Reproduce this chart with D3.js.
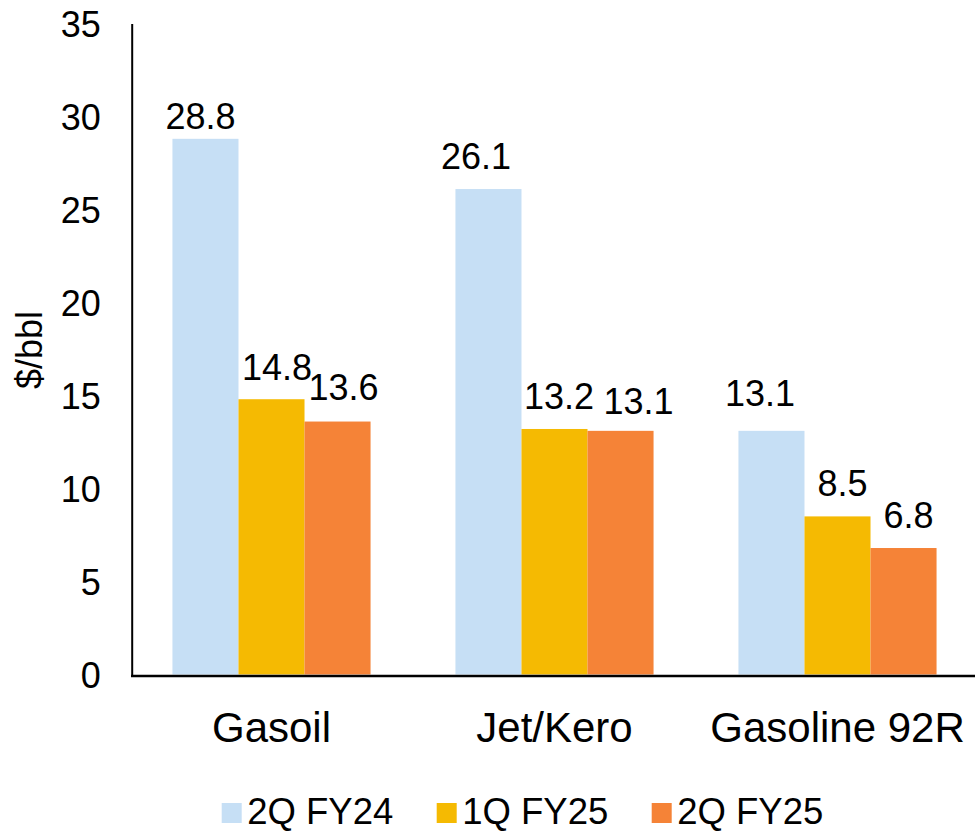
<!DOCTYPE html>
<html>
<head>
<meta charset="utf-8">
<script src="https://cdn.jsdelivr.net/npm/d3@7/dist/d3.min.js"></script>
<style>
  html, body { margin: 0; padding: 0; background: #fff; }
  svg { display: block; }
  text { font-family: "Liberation Sans", Arial, sans-serif; fill: #000; }
</style>
</head>
<body>
<div id="chart"></div>
<script>
// ---- data ----
const categories = ["Gasoil", "Jet/Kero", "Gasoline 92R"];
const seriesNames = ["2Q FY24", "1Q FY25", "2Q FY25"];
const series2QFY24 = [28.8, 26.1, 13.1];
const series1QFY25 = [14.8, 13.2, 8.5];
const series2QFY25 = [13.6, 13.1, 6.8];
const yTicks = [0, 5, 10, 15, 20, 25, 30, 35];
const yTitle = "$/bbl";

const seriesValues = [series2QFY24, series1QFY25, series2QFY25];

// ---- style / layout (not data) ----
const colors = ["#C6DFF5", "#F5BA02", "#F58337"];
// manual data-label nudges (px) as placed in the original, [category][series]
const labelDx = [[-5, 5.5, 6], [-12.5, 4.5, 18], [-11.5, 5, 5]];
const labelGap = [[10, 19, 22], [20, 20, 17], [25, 20.5, 20]];

const W = 975, H = 832;
const mLeft = 131, mRight = 980, mTop = 23.5, mBottom = 674.5;

const svg = d3.select("#chart").append("svg")
  .attr("width", W).attr("height", H);

const y = d3.scaleLinear().domain([0, 35]).range([mBottom, mTop]);
const x0 = d3.scaleBand().domain(categories).range([mLeft - 1, mRight - 1])
  .paddingInner(0.3).paddingOuter(0.15);
const x1 = d3.scaleBand().domain(seriesNames).range([0, x0.bandwidth()]);

const cellData = (c, ci) => seriesNames.map((s, si) => ({ s, si, ci, v: seriesValues[si][ci] }));

// bars
const groups = svg.append("g").selectAll("g")
  .data(categories)
  .join("g")
  .attr("transform", d => `translate(${x0(d)},0)`);

groups.selectAll("rect")
  .data(cellData)
  .join("rect")
  .attr("x", d => x1(d.s))
  .attr("y", d => y(d.v))
  .attr("width", x1.bandwidth())
  .attr("height", d => y(0) - y(d.v))
  .attr("fill", d => colors[d.si]);

groups.selectAll("text.val")
  .data(cellData)
  .join("text")
  .attr("class", "val")
  .attr("x", d => x1(d.s) + x1.bandwidth() / 2 + labelDx[d.ci][d.si])
  .attr("y", d => y(d.v) - labelGap[d.ci][d.si])
  .attr("text-anchor", "middle")
  .style("font-size", "36px")
  .text(d => d.v.toFixed(1));

// y axis
const yAxis = svg.append("g")
  .attr("transform", `translate(${mLeft + 0.7},0)`)
  .call(d3.axisLeft(y).tickValues(yTicks).tickSize(0).tickPadding(31));
yAxis.select(".domain").attr("stroke", "#000").attr("stroke-width", 2);
yAxis.selectAll("text")
  .attr("dy", "0.36em")
  .style("font-size", "36px")
  .style("font-family", '"Liberation Sans", Arial, sans-serif')
  .attr("fill", "#000");

// x axis
const xAxis = svg.append("g")
  .attr("transform", `translate(0,${mBottom + 1})`)
  .call(d3.axisBottom(x0).tickSize(0).tickPadding(0));
xAxis.select(".domain").attr("stroke", "#000").attr("stroke-width", 2.5)
  .attr("d", `M${mLeft},0.5H${W + 10}`);
xAxis.selectAll("text")
  .attr("dy", null)
  .attr("y", 741.7 - mBottom - 1)
  .style("font-size", "42px")
  .style("font-family", '"Liberation Sans", Arial, sans-serif')
  .attr("fill", "#000");

// y title
svg.append("text")
  .attr("transform", `translate(42,350) rotate(-90)`)
  .attr("text-anchor", "middle")
  .style("font-size", "36px")
  .text(yTitle);

// legend
const legend = svg.append("g").selectAll("g")
  .data(seriesNames)
  .join("g")
  .attr("transform", (d, i) => `translate(${221.7 + i * 215},0)`);
legend.append("rect")
  .attr("x", 0).attr("y", 803).attr("width", 20).attr("height", 20)
  .attr("fill", (d, i) => colors[i]);
legend.append("text")
  .attr("x", 25.5).attr("y", 824)
  .style("font-size", "36.5px")
  .text(d => d);
</script>
</body>
</html>
